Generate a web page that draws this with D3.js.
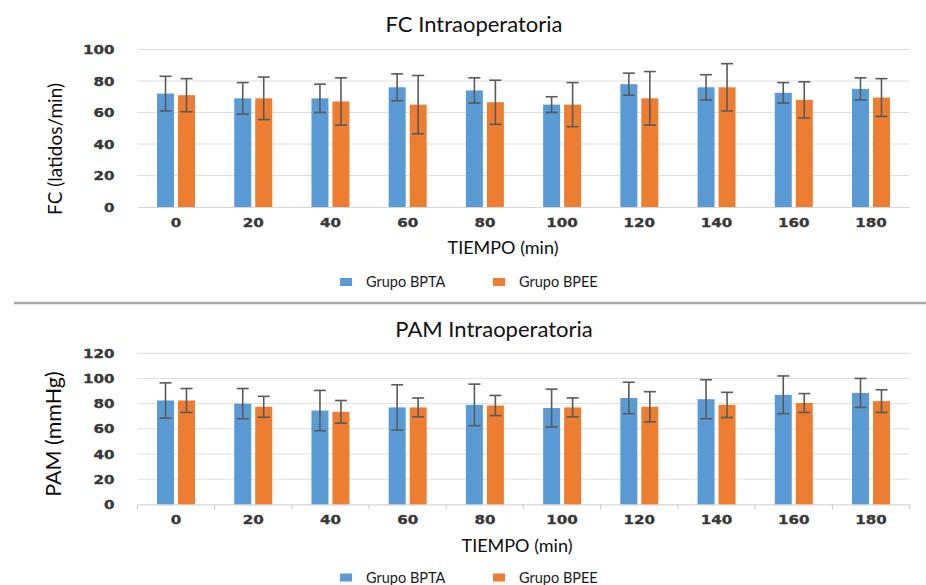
<!DOCTYPE html>
<html>
<head>
<meta charset="utf-8">
<script src="https://cdn.jsdelivr.net/npm/d3@7"></script>
<style>
    body { margin: 0; background: #fff; }
    svg { display: block; }
    .tick-label { font-family: "DejaVu Sans", sans-serif; font-weight: bold; font-size: 12.8px; fill: #383838; stroke: #383838; stroke-width: 0.35px; }
    .title { font-family: Lato, "Open Sans", sans-serif; font-size: 22px; fill: #111; }
    .axis-title { font-family: Lato, "Open Sans", sans-serif; font-size: 19px; fill: #0d0d0d; }
    .legend-text { font-family: Lato, "Open Sans", sans-serif; font-size: 14.5px; fill: #1a1a1a; }
</style>
</head>
<body>
<div id="chart"></div>
<script>
/** data **/
const times = [0, 20, 40, 60, 80, 100, 120, 140, 160, 180];
const seriesNames = ["Grupo BPTA", "Grupo BPEE"];
const seriesColors = ["#5B9BD5", "#ED7D31"];

// FC (latidos/min), mean and error
const fcBPTA = [72, 69, 69, 76, 74, 65, 78, 76, 72.5, 75];
const fcBPTAerr = [11, 10, 9, 8.5, 8, 5, 7, 8, 6.5, 7];
const fcBPEE = [71, 69, 67, 65, 66.5, 65, 69, 76, 68, 69.5];
const fcBPEEerr = [10.5, 13.5, 15, 18.5, 14, 14, 17, 15, 11.5, 12];
const fcTicks = [0, 20, 40, 60, 80, 100];

// PAM (mmHg), mean and error
const pamBPTA = [82.5, 80, 74.5, 77, 79, 76.5, 84.5, 83.5, 87, 88.5];
const pamBPTAerr = [14, 12, 16, 18, 16.5, 15, 12.5, 15.5, 15, 11.5];
const pamBPEE = [82.5, 77.5, 73.5, 77, 78.5, 77, 77.5, 79, 80.5, 82];
const pamBPEEerr = [9.5, 8.3, 9, 7.5, 8, 7.5, 12, 10, 7.5, 9];
const pamTicks = [0, 20, 40, 60, 80, 100, 120];

const width = 926;
const height = 585;
const labelStretch = 1.18;

const svg = d3.select("#chart")
    .append("svg")
    .attr("width", width)
    .attr("height", height);

// separator between the two panels
svg.append("line")
    .attr("x1", 14).attr("x2", width)
    .attr("y1", 303).attr("y2", 303)
    .attr("stroke", "#a9a9a9")
    .attr("stroke-width", 2.5);

function drawChart(cfg) {
    const g = svg.append("g");
    const rows = times.map((t, i) => ({
        time: t,
        values: [
            { key: 0, mean: cfg.a[i], err: cfg.aErr[i] },
            { key: 1, mean: cfg.b[i], err: cfg.bErr[i] }
        ]
    }));

    const x0 = d3.scaleBand()
        .domain(times)
        .range([137.4, 909.6])
        .paddingInner(0.508)
        .paddingOuter(0.254);

    const x1 = d3.scaleBand()
        .domain([0, 1])
        .range([0, x0.bandwidth()])
        .paddingInner(0.19);

    const y = d3.scaleLinear()
        .domain([0, d3.max(cfg.ticks)])
        .range([cfg.bottom, cfg.top]);

    // gridlines
    g.append("g")
        .selectAll("line")
        .data(cfg.ticks.filter(d => d > 0))
        .join("line")
        .attr("x1", x0.range()[0])
        .attr("x2", x0.range()[1])
        .attr("y1", d => y(d))
        .attr("y2", d => y(d))
        .attr("stroke", "#dedede")
        .attr("stroke-width", 1);

    // y axis labels
    const yAxis = g.append("g")
        .attr("transform", `translate(${x0.range()[0]},0)`)
        .call(d3.axisLeft(y).tickValues(cfg.ticks).tickSize(0).tickPadding(23));
    yAxis.select(".domain").remove();
    yAxis.selectAll("text")
        .attr("class", "tick-label")
        .attr("font-family", null).attr("font-size", null)
        .attr("x", -23 / labelStretch)
        .attr("transform", `scale(${labelStretch},1)`);

    // x axis
    const xAxis = g.append("g")
        .attr("transform", `translate(0,${cfg.bottom})`)
        .call(d3.axisBottom(x0).tickSize(0).tickPadding(cfg.xPad));
    xAxis.select(".domain")
        .attr("stroke", "#d6d6d6")
        .attr("stroke-width", 1.2);
    xAxis.selectAll("text")
        .attr("class", "tick-label")
        .attr("font-family", null).attr("font-size", null)
        .attr("transform", `scale(${labelStretch},1)`);

    if (cfg.boundaryTicks) {
        const half = x0.step() / 2;
        const bounds = times.map(t => x0(t) + x0.bandwidth() / 2 - half)
            .concat([x0(times[times.length - 1]) + x0.bandwidth() / 2 + half]);
        g.append("g")
            .selectAll("line")
            .data(bounds)
            .join("line")
            .attr("x1", d => d).attr("x2", d => d)
            .attr("y1", cfg.bottom).attr("y2", cfg.bottom + 5)
            .attr("stroke", "#cfcfcf")
            .attr("stroke-width", 1.2);
    }

    // bars
    const groups = g.append("g")
        .selectAll("g")
        .data(rows)
        .join("g")
        .attr("transform", d => `translate(${x0(d.time)},0)`);

    groups.selectAll("rect")
        .data(d => d.values)
        .join("rect")
        .attr("x", d => x1(d.key))
        .attr("width", x1.bandwidth())
        .attr("y", d => y(d.mean))
        .attr("height", d => y(0) - y(d.mean))
        .attr("fill", d => seriesColors[d.key]);

    // error bars
    const capHalf = 6;
    const err = groups.selectAll("g.err")
        .data(d => d.values)
        .join("g")
        .attr("class", "err")
        .attr("stroke", "#5a5a5a")
        .attr("stroke-width", 1.6);

    err.append("line")
        .attr("x1", d => x1(d.key) + x1.bandwidth() / 2)
        .attr("x2", d => x1(d.key) + x1.bandwidth() / 2)
        .attr("y1", d => y(d.mean + d.err))
        .attr("y2", d => y(d.mean - d.err));
    err.append("line")
        .attr("x1", d => x1(d.key) + x1.bandwidth() / 2 - capHalf)
        .attr("x2", d => x1(d.key) + x1.bandwidth() / 2 + capHalf)
        .attr("y1", d => y(d.mean + d.err))
        .attr("y2", d => y(d.mean + d.err));
    err.append("line")
        .attr("x1", d => x1(d.key) + x1.bandwidth() / 2 - capHalf)
        .attr("x2", d => x1(d.key) + x1.bandwidth() / 2 + capHalf)
        .attr("y1", d => y(d.mean - d.err))
        .attr("y2", d => y(d.mean - d.err));

    // titles
    g.append("text")
        .attr("class", "title")
        .attr("x", cfg.titleX)
        .attr("y", cfg.titleY)
        .attr("text-anchor", "middle")
        .text(cfg.title);

    g.append("text")
        .attr("class", "axis-title")
        .attr("transform", `translate(${cfg.yTitleX},${cfg.yTitleY}) rotate(-90)`)
        .attr("text-anchor", "middle")
        .attr("dy", "0.35em")
        .style("font-size", cfg.yTitleSize + "px")
        .text(cfg.yTitle);

    g.append("text")
        .attr("class", "axis-title")
        .attr("x", cfg.xTitleX)
        .attr("y", cfg.xTitleY)
        .attr("text-anchor", "middle")
        .style("font-size", "18px")
        .text("TIEMPO (min)");

    // legend
    const legendX = [340, 493];
    const legend = g.append("g")
        .selectAll("g")
        .data(seriesNames)
        .join("g")
        .attr("transform", (d, i) => `translate(${legendX[i]},${cfg.legendY})`);
    legend.append("rect")
        .attr("x", 0).attr("y", -4)
        .attr("width", 12).attr("height", 8)
        .attr("fill", (d, i) => seriesColors[i]);
    legend.append("text")
        .attr("class", "legend-text")
        .attr("x", 26)
        .attr("y", 5)
        .text(d => d);
}

drawChart({
    a: fcBPTA, aErr: fcBPTAerr, b: fcBPEE, bErr: fcBPEEerr,
    ticks: fcTicks, top: 49.5, bottom: 207,
    xPad: 11, boundaryTicks: false,
    title: "FC Intraoperatoria", titleX: 474, titleY: 31.5,
    yTitle: "FC (latidos/min)", yTitleX: 55, yTitleY: 149, yTitleSize: 19,
    xTitleX: 503, xTitleY: 254,
    legendY: 282
});

drawChart({
    a: pamBPTA, aErr: pamBPTAerr, b: pamBPEE, bErr: pamBPEEerr,
    ticks: pamTicks, top: 353.3, bottom: 504.3,
    xPad: 11, boundaryTicks: true,
    title: "PAM Intraoperatoria", titleX: 494, titleY: 337,
    yTitle: "PAM (mmHg)", yTitleX: 53, yTitleY: 434, yTitleSize: 21.5,
    xTitleX: 517, xTitleY: 551.5,
    legendY: 577.5
});
</script>
</body>
</html>
